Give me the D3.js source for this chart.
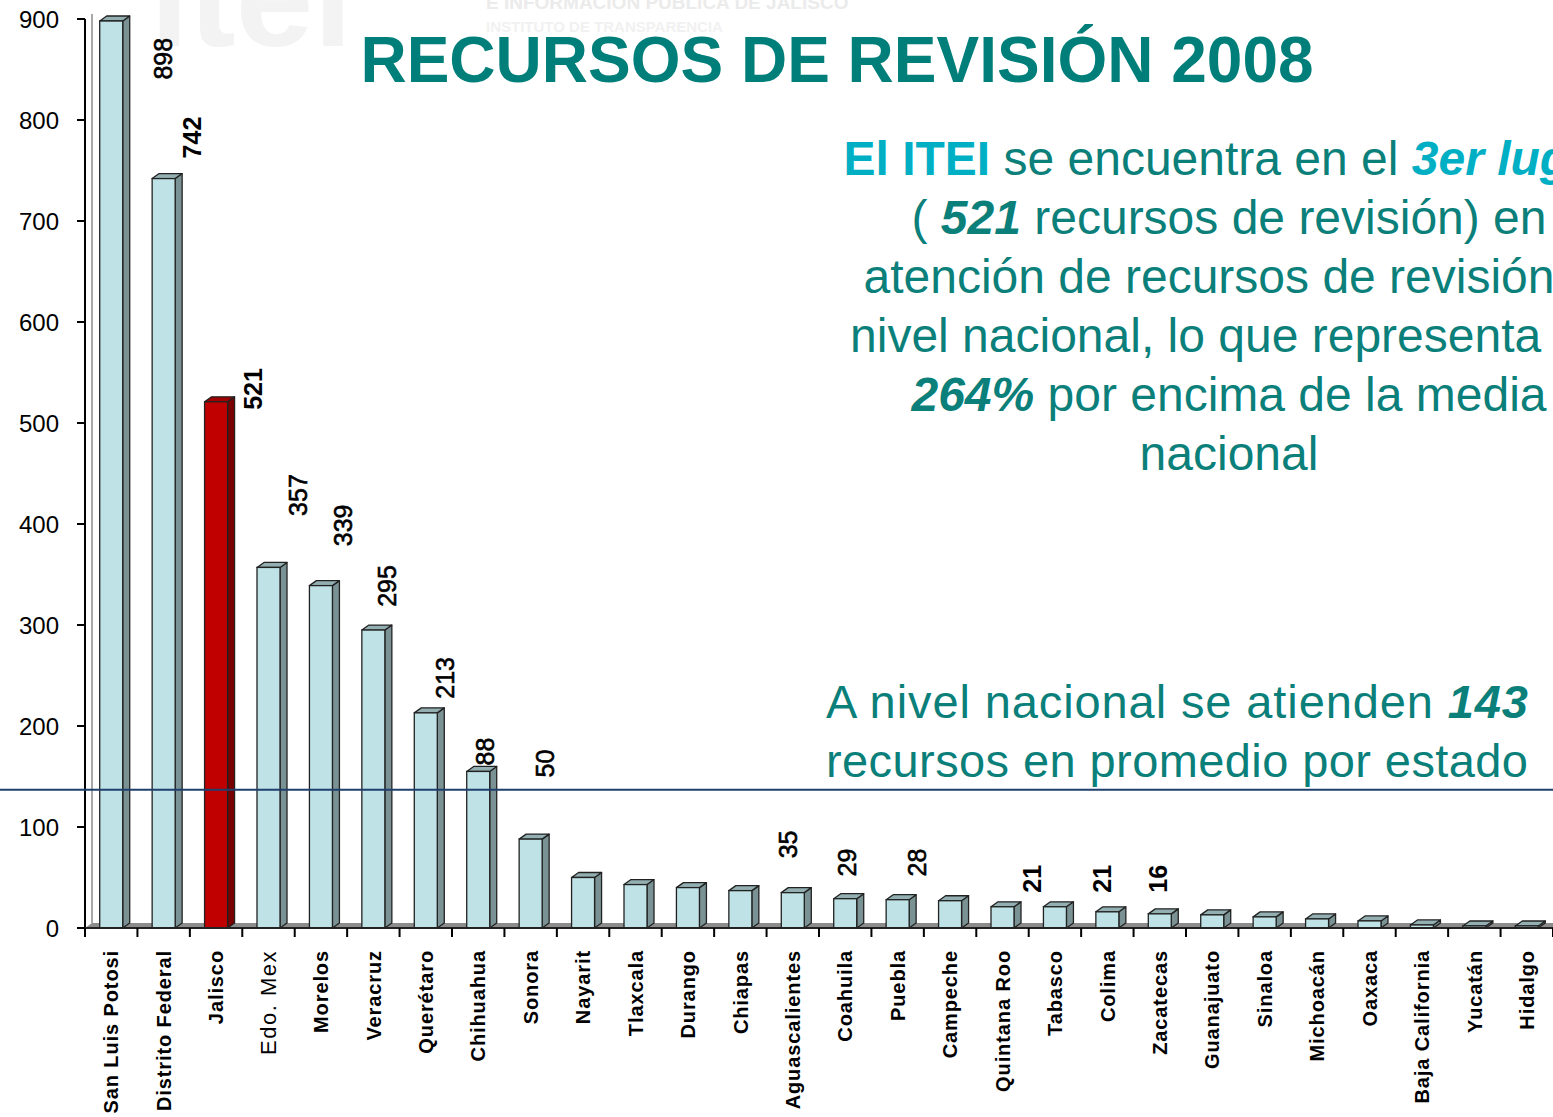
<!DOCTYPE html>
<html>
<head>
<meta charset="utf-8">
<script src="https://cdn.jsdelivr.net/npm/d3@7"></script>
<style>
  body { margin: 0; background: #fff; }
  text { font-family: "Liberation Sans", Arial, sans-serif; }
</style>
</head>
<body>
<div id="chart"></div>
<script>
var estados = ["San Luis Potosi", "Distrito Federal", "Jalisco", "Edo. Mex", "Morelos", "Veracruz",
    "Querétaro", "Chihuahua", "Sonora", "Nayarit", "Tlaxcala", "Durango", "Chiapas", "Aguascalientes",
    "Coahuila", "Puebla", "Campeche", "Quintana Roo", "Tabasco", "Colima", "Zacatecas", "Guanajuato",
    "Sinaloa", "Michoacán", "Oaxaca", "Baja California", "Yucatán", "Hidalgo"];
var recursos = [898, 742, 521, 357, 339, 295, 213, 155, 88, 50, 43, 40, 37, 35, 29, 28, 27, 21, 21, 16,
    14, 13, 11, 9, 7, 3, 2, 2];
var destacado = "Jalisco";
var yTicks = [0, 100, 200, 300, 400, 500, 600, 700, 800, 900];
var lineaMedia = 137;

// data labels as they sit on the slide (category position, value at label foot)
var etiquetas = [
    { t: "898", pos: 0.99, v: 840, b: false },
    { t: "742", pos: 1.54, v: 762, b: true },
    { t: "521", pos: 2.71, v: 513, b: true },
    { t: "357", pos: 3.57, v: 408, b: false },
    { t: "339", pos: 4.42, v: 378, b: false },
    { t: "295", pos: 5.26, v: 318, b: false },
    { t: "213", pos: 6.37, v: 227, b: false },
    { t: "88", pos: 7.13, v: 161, b: false },
    { t: "50", pos: 8.28, v: 149, b: false },
    { t: "35", pos: 12.9, v: 69, b: false },
    { t: "29", pos: 14.04, v: 51, b: false },
    { t: "28", pos: 15.36, v: 51, b: false },
    { t: "21", pos: 17.57, v: 35, b: true },
    { t: "21", pos: 18.89, v: 35, b: true },
    { t: "16", pos: 19.96, v: 35, b: true }
];

var width = 1553, height = 1117;
var teal = "#0b7f7a", cyan = "#00afc4";

var svg = d3.select("#chart").append("svg")
    .attr("width", width)
    .attr("height", height);

// faint logo watermark
var wm = svg.append("g");
wm.append("text").attr("x", 150).attr("y", 46).attr("font-size", 140).attr("font-weight", 700)
    .attr("fill", "#f3f3f3").text("itei");
wm.append("text").attr("x", 486).attr("y", 9).attr("font-size", 19).attr("font-weight", 700)
    .attr("fill", "#ebebeb").text("E INFORMACIÓN PÚBLICA DE JALISCO");
wm.append("text").attr("x", 486).attr("y", 32).attr("font-size", 15).attr("font-weight", 700)
    .attr("fill", "#f1f1f1").text("INSTITUTO DE TRANSPARENCIA");

var xScale = d3.scaleBand().domain(estados).range([85, 1553]).padding(0);
var yScale = d3.scaleLinear().domain([0, 900]).range([928, 19]);
var step = xScale.step();
var base = yScale(0);
var dx = 7, dy = 5, bw = 23;

// floor
svg.append("polygon")
    .attr("points", [[85, base], [85 + dx, base - dy], [1553, base - dy], [1553, base]].join(" "))
    .attr("fill", "#8c8c8c");
svg.append("line").attr("x1", 85 + dx).attr("x2", 85 + dx)
    .attr("y1", yScale(900) - dy).attr("y2", base - dy)
    .attr("stroke", "#a8a8a8").attr("stroke-width", 2);

var bars = svg.append("g").selectAll("g")
    .data(estados.map(function (d, i) { return { name: d, value: recursos[i] }; }))
    .enter().append("g");

function col(d, k) {
    if (d.name == destacado) return ["#c00000", "#7a0000", "#a00000"][k];
    return ["#bee2e5", "#7a9294", "#93afb1"][k];
}

bars.append("polygon")
    .attr("points", function (d) {
        var x1 = xScale(d.name) + step / 2 + bw / 2, top = yScale(d.value);
        return [[x1, top], [x1 + dx, top - dy], [x1 + dx, base - dy], [x1, base]].join(" ");
    })
    .attr("fill", function (d) { return col(d, 1); })
    .attr("stroke", "#222").attr("stroke-width", 1.3).attr("stroke-linejoin", "round");
bars.append("polygon")
    .attr("points", function (d) {
        var x0 = xScale(d.name) + step / 2 - bw / 2, top = yScale(d.value);
        return [[x0, top], [x0 + dx, top - dy], [x0 + bw + dx, top - dy], [x0 + bw, top]].join(" ");
    })
    .attr("fill", function (d) { return col(d, 2); })
    .attr("stroke", "#222").attr("stroke-width", 1.3).attr("stroke-linejoin", "round");
bars.append("rect")
    .attr("x", function (d) { return xScale(d.name) + step / 2 - bw / 2; })
    .attr("y", function (d) { return yScale(d.value); })
    .attr("width", bw)
    .attr("height", function (d) { return base - yScale(d.value); })
    .attr("fill", function (d) { return col(d, 0); })
    .attr("stroke", "#222").attr("stroke-width", 1.3);

// axes
var yAxis = svg.append("g");
yAxis.append("line").attr("x1", 85).attr("x2", 85).attr("y1", yScale(900)).attr("y2", base)
    .attr("stroke", "#000").attr("stroke-width", 2);
yAxis.selectAll(".yt").data(yTicks).enter().append("line")
    .attr("x1", 77).attr("x2", 85)
    .attr("y1", function (d) { return yScale(d); }).attr("y2", function (d) { return yScale(d); })
    .attr("stroke", "#000").attr("stroke-width", 2);
yAxis.selectAll("text").data(yTicks).enter().append("text")
    .attr("x", 59).attr("y", function (d) { return yScale(d); })
    .attr("dy", "0.36em").attr("text-anchor", "end")
    .attr("font-size", 24).attr("fill", "#000")
    .text(function (d) { return d; });

var xAxis = svg.append("g");
xAxis.append("line").attr("x1", 85).attr("x2", 1553).attr("y1", base).attr("y2", base)
    .attr("stroke", "#222").attr("stroke-width", 2);
xAxis.selectAll(".xt").data(estados.concat(["fin"])).enter().append("line")
    .attr("x1", function (d, i) { return 85 + i * step; })
    .attr("x2", function (d, i) { return 85 + i * step; })
    .attr("y1", base).attr("y2", base + 9)
    .attr("stroke", "#000").attr("stroke-width", 2);
xAxis.selectAll("text").data(estados).enter().append("text")
    .attr("transform", function (d) { return "translate(" + (xScale(d) + step / 2) + ",950)rotate(-90)"; })
    .attr("dy", "0.36em")
    .attr("text-anchor", "end")
    .attr("font-size", function (d) { return d == "Edo. Mex" ? 22 : 20; })
    .attr("font-weight", function (d) { return d == "Edo. Mex" ? 400 : 700; })
    .attr("letter-spacing", function (d) { return d == "Edo. Mex" ? 1.5 : 0.9; })
    .attr("fill", "#000")
    .text(function (d) { return d; });

// bar value labels
svg.append("g").selectAll("text").data(etiquetas).enter().append("text")
    .attr("transform", function (d) {
        return "translate(" + (85 + step * (d.pos + 0.5)) + "," + yScale(d.v) + ")rotate(-90)";
    })
    .attr("dy", "0.36em")
    .attr("font-size", 25)
    .attr("font-weight", function (d) { return d.b ? 700 : 400; })
    .attr("stroke", "#000").attr("stroke-width", function (d) { return d.b ? 0 : 0.6; })
    .attr("fill", "#000")
    .text(function (d) { return d.t; });

// average line
svg.append("line")
    .attr("x1", 0).attr("x2", width)
    .attr("y1", yScale(lineaMedia)).attr("y2", yScale(lineaMedia))
    .attr("stroke", "#1f3f6e").attr("stroke-width", 2);

// title
svg.append("text")
    .attr("x", 837).attr("y", 82)
    .attr("text-anchor", "middle")
    .attr("font-size", 64).attr("font-weight", 700)
    .attr("fill", "#007f7a")
    .text("RECURSOS DE REVISIÓN 2008");

// right text block
var lineas = [
    [["El ITEI", "b", cyan], [" se encuentra en el ", "", teal], ["3er lugar", "bi", cyan]],
    [["( ", "", teal], ["521", "bi", teal], [" recursos de revisión) en", "", teal]],
    [["atención de recursos de revisión a", "", teal]],
    [["nivel nacional, lo que representa un", "", teal]],
    [["264%", "bi", teal], [" por encima de la media", "", teal]],
    [["nacional", "", teal]]
];
var bloque = svg.append("g");
lineas.forEach(function (l, i) {
    var t = bloque.append("text")
        .attr("x", 1229).attr("y", 175 + i * 59)
        .attr("text-anchor", "middle")
        .attr("font-size", 48);
    l.forEach(function (s) {
        t.append("tspan")
            .attr("font-weight", s[1].indexOf("b") >= 0 ? 700 : 400)
            .attr("font-style", s[1].indexOf("i") >= 0 ? "italic" : "normal")
            .attr("fill", s[2])
            .text(s[0]);
    });
});

var media = svg.append("g");
var t1 = media.append("text").attr("x", 826).attr("y", 718).attr("font-size", 47).attr("fill", teal)
    .attr("textLength", 702).attr("lengthAdjust", "spacing");
t1.append("tspan").text("A nivel nacional se atienden ");
t1.append("tspan").attr("font-weight", 700).attr("font-style", "italic").text("143");
media.append("text").attr("x", 826).attr("y", 777).attr("font-size", 47).attr("fill", teal)
    .attr("textLength", 702).attr("lengthAdjust", "spacing")
    .text("recursos en promedio por estado");
</script>
</body>
</html>
